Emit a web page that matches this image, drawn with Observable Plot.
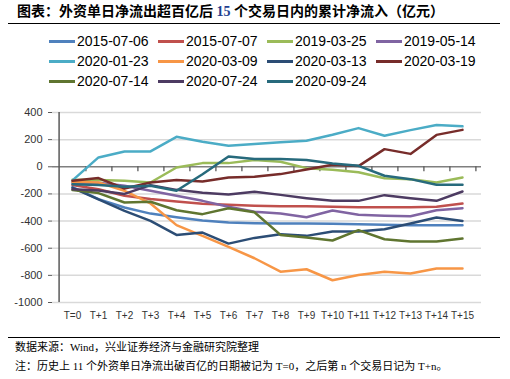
<!DOCTYPE html>
<html><head><meta charset="utf-8">
<script src="https://cdn.jsdelivr.net/npm/d3@7"></script>
<script src="https://cdn.jsdelivr.net/npm/@observablehq/plot@0.6"></script>
<style>
body{margin:0;width:510px;height:379px;position:relative;background:#fff;overflow:hidden;font-family:"Liberation Sans","Noto Sans CJK SC",sans-serif}
#title{position:absolute;left:17px;top:3px;font-weight:bold;font-size:14px;line-height:17px;font-family:"Liberation Serif","Noto Sans CJK SC",serif;white-space:nowrap;color:#000}
#title .n{color:#1f3f8f}
.hr{position:absolute;left:8px;width:492px;height:0;border-top:1.3px solid #000}
.li{position:absolute;display:flex;align-items:center;font-size:14px;white-space:nowrap;height:20px;color:#000}
.sw{width:26px;height:3px;margin-right:2px}
#chart{position:absolute;left:0;top:100px}
#foot{position:absolute;left:15px;top:338px;font-size:11px;line-height:19px;font-family:"Liberation Serif","Noto Sans CJK SC",serif;color:#000;white-space:nowrap}
</style></head>
<body>
<div id="title">图表：外资单日净流出超百亿后 <span class="n">15</span> 个交易日内的累计净流入（亿元）</div>
<div class="hr" style="top:23px"></div>
<div id="legend"></div>
<div id="chart"></div>
<div class="hr" style="top:337px"></div>
<div id="foot">数据来源：Wind，兴业证券经济与金融研究院整理<br>注：历史上 11 个外资单日净流出破百亿的日期被记为 T=0，之后第 n 个交易日记为 T+n。</div>
<script>
const periods = ["T=0","T+1","T+2","T+3","T+4","T+5","T+6","T+7","T+8","T+9","T+10","T+11","T+12","T+13","T+14","T+15"];
const seriesNames = ["2015-07-06","2015-07-07","2019-03-25","2019-05-14","2020-01-23","2020-03-09","2020-03-13","2020-03-19","2020-07-14","2020-07-24","2020-09-24"];
const seriesColors = ["#4F81BD","#C0504D","#9BBB59","#8064A2","#4BACC6","#F79646","#2C4D75","#772C2A","#5F7530","#4D3B62","#276A7C"];
const yTicks = [400,200,0,-200,-400,-600,-800,-1000];

const s20150706 = [-150,-238,-300,-345,-372,-396,-411,-416,-418,-418,-420,-424,-428,-430,-430,-430];
const s20150707 = [-135,-165,-214,-238,-256,-272,-280,-287,-290,-290,-295,-298,-298,-298,-295,-271];
const s20190325 = [-95,-98,-103,-116,-5,27,27,50,37,-10,-22,-40,-84,-91,-116,-79];
const s20190514 = [-118,-118,-140,-177,-214,-251,-295,-332,-345,-372,-322,-354,-360,-365,-320,-305];
const s20200123 = [-100,69,113,113,221,185,155,167,180,192,236,285,229,270,308,298];
const s20200309 = [-110,-116,-177,-270,-430,-509,-590,-674,-773,-755,-836,-797,-773,-787,-750,-750];
const s20200313 = [-155,-240,-325,-399,-502,-485,-566,-524,-497,-509,-477,-477,-460,-418,-374,-399];
const s20200319 = [-103,-83,-160,-116,-98,-108,-79,-74,-54,-20,15,5,130,95,235,272];
const s20200714 = [-172,-194,-263,-258,-320,-349,-305,-335,-502,-521,-543,-467,-534,-551,-551,-529];
const s20200724 = [-165,-175,-200,-135,-170,-192,-205,-184,-207,-231,-251,-251,-209,-231,-251,-182];
const s20200924 = [-128,-135,-148,-140,-177,-55,76,57,57,50,25,7,-66,-91,-133,-133];

const seriesValues = [s20150706,s20150707,s20190325,s20190514,s20200123,s20200309,s20200313,s20200319,s20200714,s20200724,s20200924];
const rows = [];
seriesNames.forEach((name, i) => {
  seriesValues[i].forEach((v, j) => rows.push({s: name, t: periods[j], v}));
});

// legend
const legend = document.getElementById("legend");
const colX = [49,158,267,376], rowY = [31,51,71];
seriesNames.forEach((name, i) => {
  const d = document.createElement("div");
  d.className = "li";
  d.style.left = colX[i % 4] + "px";
  d.style.top = rowY[Math.floor(i / 4)] + "px";
  d.innerHTML = `<span class="sw" style="background:${seriesColors[i]}"></span><span>${name}</span>`;
  legend.appendChild(d);
});

const W = 510, H = 225, mL = 52, mR = 29, mT = 12, mB = 23;
const step = (W - mL - mR) / periods.length;

const chart = Plot.plot({
  width: W, height: H, marginLeft: mL, marginRight: mR, marginTop: mT, marginBottom: mB,
  style: {fontFamily: "'Liberation Sans', sans-serif", fontSize: "11px", color: "#333", background: "transparent", overflow: "visible"},
  x: {type: "point", domain: periods, padding: 0.5},
  y: {domain: [-1000, 400]},
  color: {domain: seriesNames, range: seriesColors},
  marks: [
    Plot.ruleY(yTicks.filter(d => d !== 0), {stroke: "#d9d9d9", strokeWidth: 1.5}),
    Plot.ruleY([0], {stroke: "#7f7f7f", strokeWidth: 1.5}),
    Plot.ruleX(periods, {y1: 0, y2: -36, dx: step / 2, stroke: "#595959", strokeWidth: 1.3}),
    Plot.ruleX([periods[0]], {y1: -1000, y2: 400, dx: -step / 2, stroke: "#595959", strokeWidth: 1.5}),
    Plot.axisY({ticks: yTicks, tickSize: 4, tickPadding: 6, tickFormat: d => String(d), label: null, stroke: "#595959", fill: "#333"}),
    Plot.axisX({tickSize: 0, tickPadding: 9, label: null, fill: "#333", fontSize: 10}),
    Plot.line(rows, {x: "t", y: "v", z: "s", stroke: "s", strokeWidth: 2.5, strokeLinejoin: "round", strokeLinecap: "round"})
  ]
});
document.getElementById("chart").appendChild(chart);
</script>
</body></html>
